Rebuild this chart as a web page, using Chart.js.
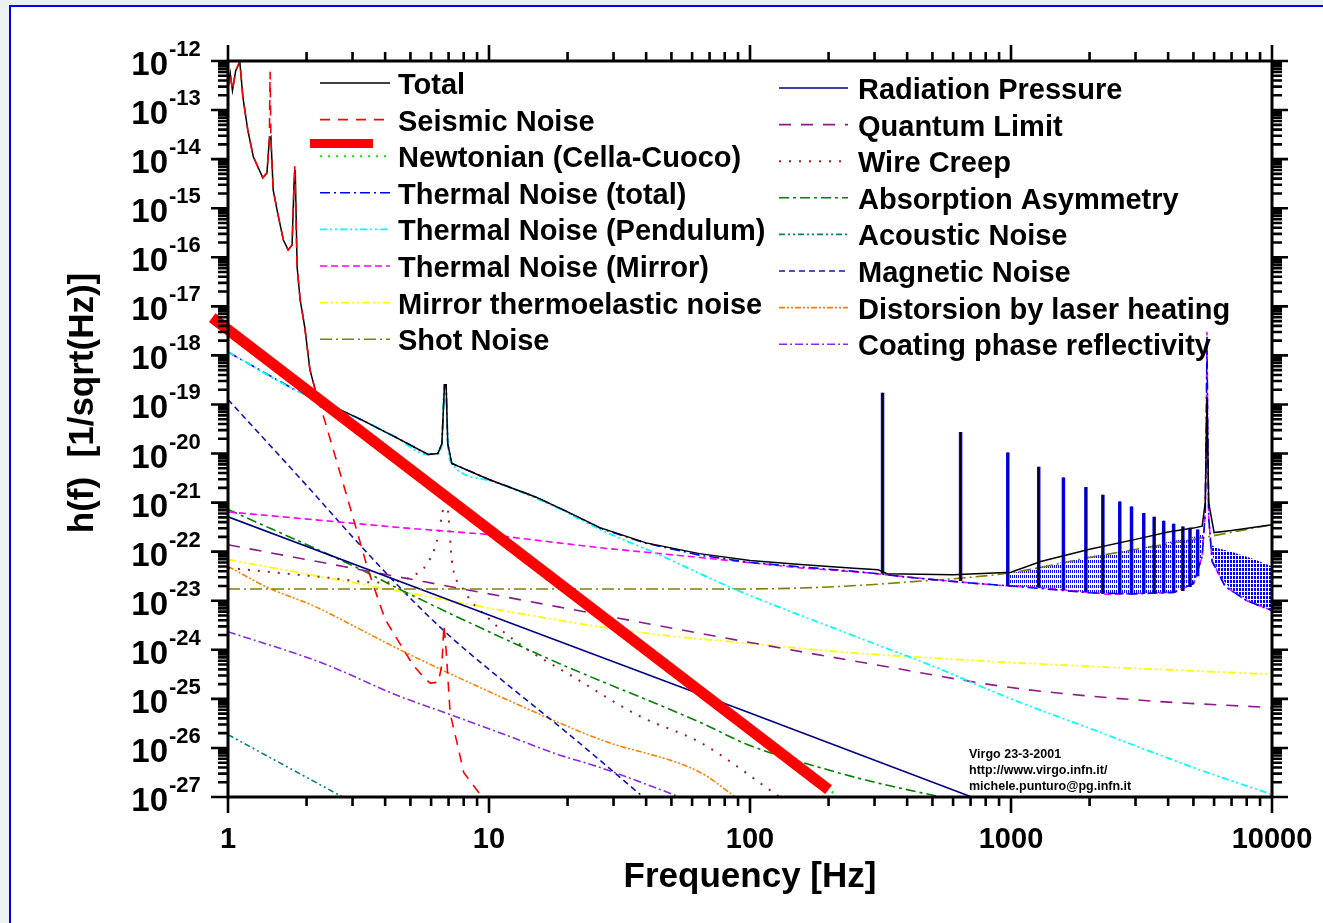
<!DOCTYPE html>
<html>
<head>
<meta charset="utf-8">
<script src="https://cdn.jsdelivr.net/npm/chart.js@4.4.1/dist/chart.umd.min.js"></script>
<style>
  html, body { margin: 0; padding: 0; }
  body { width: 1323px; height: 923px; background: #eef1f4; position: relative; overflow: hidden; }
  #panel { position: absolute; left: 9px; top: 5px; right: -5px; bottom: -5px; background: #fff;
           border-left: 2px solid #0000ff; border-top: 2px solid #0000ff; }
  #wrap { position: absolute; left: 0; top: 0; width: 1323px; height: 923px; }
</style>
</head>
<body>
<div id="panel"></div>
<div id="wrap"><canvas id="chart" width="1323" height="923"></canvas></div>
<script>
// frequency [Hz] and h(f) [1/sqrt(Hz)]
const totalF = [1.00, 1.02, 1.04, 1.07, 1.11, 1.14, 1.19, 1.25, 1.36, 1.41, 1.44, 1.46, 1.49, 1.55, 1.63, 1.70, 1.76, 1.79, 1.81, 1.84, 1.89, 1.97, 2.06, 2.17, 2.27, 3.24, 4.36, 5.84, 6.37, 6.6, 6.75, 6.85, 6.95, 7.2, 10, 15, 20, 26.6, 40, 64, 100, 156, 250, 310, 335, 600, 1000, 1300, 2000, 3000, 4000, 5000, 5400, 5550, 5635, 5720, 6000, 7000, 10000];
const totalH = [2.82e-13, 5.62e-13, 2.51e-13, 6.31e-13, 9.55e-13, 1.86e-13, 3.98e-14, 1.12e-14, 4.17e-15, 5.25e-15, 2.51e-14, 2.82e-14, 2.34e-15, 7.94e-16, 2.24e-16, 1.41e-16, 1.78e-16, 3.16e-15, 6.03e-15, 6.31e-17, 1.35e-17, 3.63e-18, 5.13e-19, 1.78e-19, 1.2e-19, 4.9e-20, 2.19e-20, 9.55e-21, 1.0e-20, 1.58e-20, 2.51e-19, 2.51e-19, 1.58e-20, 6.31e-21, 2.95e-21, 1.32e-21, 6.46e-22, 3.09e-22, 1.51e-22, 9.12e-23, 6.61e-23, 5.5e-23, 4.57e-23, 4.27e-23, 3.55e-23, 3.39e-23, 3.8e-23, 6.31e-23, 1.12e-22, 1.78e-22, 2.51e-22, 3.02e-22, 3.31e-22, 1.0e-21, 1.38e-19, 1.0e-21, 2.45e-22, 2.69e-22, 3.55e-22];

const seismicF = [1.00, 1.02, 1.04, 1.07, 1.11, 1.14, 1.19, 1.25, 1.36, 1.41, 1.44, 1.45, 1.46, 1.49, 1.55, 1.63, 1.70, 1.76, 1.79, 1.80, 1.84, 1.89, 1.97, 2.06, 2.17, 2.36, 2.88, 3.44, 4.0, 5.1, 5.6, 5.95, 6.4, 6.6, 6.72, 6.85, 7.1, 7.6, 8.0, 9.4];
const seismicH = [2.82e-13, 5.62e-13, 2.51e-13, 6.31e-13, 1.0e-12, 1.86e-13, 3.98e-14, 1.12e-14, 4.17e-15, 5.25e-15, 2.51e-14, 6.03e-13, 2.51e-14, 2.34e-15, 7.94e-16, 2.24e-16, 1.41e-16, 1.78e-16, 3.16e-15, 7.59e-15, 6.31e-17, 1.35e-17, 3.63e-18, 5.13e-19, 1.78e-19, 4.27e-20, 1.15e-21, 4.27e-23, 4.17e-24, 5.01e-25, 2.82e-25, 2.09e-25, 2.19e-25, 5.01e-25, 3.16e-24, 1.0e-24, 5.01e-26, 1.07e-26, 3.16e-27, 1.0e-27];

const newtonF = [1, 10, 100, 215];
const newtonH = [3.31e-18, 2.82e-22, 2.40e-26, 1.07e-27];
// thick red highlight drawn over the Newtonian curve
const highlightF = [0.87, 200];
const highlightH = [5.89e-18, 1.41e-27];

const thermalF = [1, 1.8, 2.27, 3.24, 4.36, 5.84, 6.37, 6.6, 6.75, 6.85, 6.95, 7.2, 10, 15, 20, 26.6, 40, 64, 100, 156, 250, 310, 400, 700, 1000, 2000, 3000, 4200, 5000, 5400, 5550, 5600, 5635, 5670, 5720, 5900, 6620, 8000, 10000];
const thermalH = [1.17e-18, 2.0e-19, 1.15e-19, 4.9e-20, 2.19e-20, 9.55e-21, 1.0e-20, 1.58e-20, 2.51e-19, 2.51e-19, 1.58e-20, 6.31e-21, 2.95e-21, 1.32e-21, 6.46e-22, 3.02e-22, 1.48e-22, 8.51e-23, 6.03e-23, 4.9e-23, 3.98e-23, 3.55e-23, 3.02e-23, 2.29e-23, 2.0e-23, 1.45e-23, 1.38e-23, 1.48e-23, 2.24e-23, 7.94e-23, 6.31e-22, 3.16e-20, 2.51e-18, 3.16e-20, 5.01e-22, 6.31e-23, 1.95e-23, 1.0e-23, 6.31e-24];

const pendulumF = [1, 1.8, 2.27, 3.24, 4.36, 5.84, 6.37, 6.6, 6.75, 6.85, 6.95, 7.2, 10, 17.2, 26.7, 44.2, 86, 243, 500, 1000, 2000, 5000, 10000];
const pendulumH = [1.17e-18, 2.0e-19, 1.15e-19, 4.9e-20, 2.19e-20, 9.55e-21, 1.0e-20, 1.58e-20, 2.51e-19, 2.51e-19, 1.58e-20, 6.31e-21, 2.82e-21, 9.12e-22, 2.82e-22, 8.91e-23, 1.78e-23, 2.04e-24, 4.68e-25, 1.0e-25, 2.51e-26, 3.98e-27, 1.12e-27];

const mirrorF = [1, 4.57, 10, 17.2, 26.7, 64.5, 156, 281, 505, 910, 1290, 2345, 4230, 5000, 5400, 5550, 5600, 5635, 5670, 5720, 5900, 6620, 8000, 10000];
const mirrorH = [6.46e-22, 3.09e-22, 2.24e-22, 1.58e-22, 1.2e-22, 7.59e-23, 4.68e-23, 3.72e-23, 2.69e-23, 2.04e-23, 1.86e-23, 1.35e-23, 1.48e-23, 2.24e-23, 7.94e-23, 6.31e-22, 3.16e-20, 3.02e-18, 3.16e-20, 5.01e-22, 6.31e-23, 1.95e-23, 1.0e-23, 6.31e-24];

// violin modes of the suspension wires
const violinF = [322, 641, 972, 1277, 1588, 1936, 2249, 2611, 2896, 3226, 3536, 3846, 4199, 4555, 4850, 5190];
const violinPeakH = [1.74e-19, 2.75e-20, 1.05e-20, 5.37e-21, 3.24e-21, 2.09e-21, 1.45e-21, 1.05e-21, 8.32e-22, 6.17e-22, 5.13e-22, 4.27e-22, 3.72e-22, 3.24e-22, 3.09e-22, 2.82e-22];
const violinBaseH = [3.55e-23, 2.51e-23, 2.0e-23, 1.86e-23, 1.66e-23, 1.51e-23, 1.38e-23, 1.35e-23, 1.35e-23, 1.38e-23, 1.41e-23, 1.45e-23, 1.48e-23, 1.58e-23, 1.9e-23, 3.16e-23];
// band covered by the unresolved violin harmonics
const bandAF = [990, 1300, 2000, 3000, 4000, 5000, 5450];
const bandATopH = [3.55e-23, 5.01e-23, 7.94e-23, 1.12e-22, 1.58e-22, 2.0e-22, 2.4e-22];
const bandALowH = [2.0e-23, 1.86e-23, 1.45e-23, 1.38e-23, 1.45e-23, 2.24e-23, 1.0e-22];
const bandBF = [5800, 6200, 7000, 8500, 10000];
const bandBTopH = [1.4e-22, 1.17e-22, 1.0e-22, 7.08e-23, 5.01e-23];
const bandBLowH = [1.3e-22, 3.55e-23, 1.66e-23, 8.91e-24, 6.31e-24];

const elasticF = [1, 4.56, 10, 35.8, 109, 243, 412, 1000, 10000];
const elasticH = [6.92e-23, 1.55e-23, 7.08e-24, 2.34e-24, 1.29e-24, 8.71e-25, 7.24e-25, 5.5e-25, 3.16e-25];

const shotF = [1, 100, 200, 400, 1000, 2000, 5000, 10000];
const shotH = [1.74e-23, 1.74e-23, 1.91e-23, 2.40e-23, 3.72e-23, 7.59e-23, 1.78e-22, 3.55e-22];

const radiationF = [1, 10, 100, 707];
const radiationH = [5.13e-22, 5.13e-24, 5.13e-26, 1.0e-27];

const quantumF = [1, 10, 100, 300, 1000, 3000, 10000];
const quantumH = [1.38e-22, 1.38e-23, 1.41e-24, 5.01e-25, 1.70e-25, 9.55e-26, 6.61e-26];

const creepF = [1, 1.55, 2.42, 3.76, 5.03, 5.84, 6.3, 6.59, 6.84, 7.0, 7.2, 7.9, 10.1, 13.5, 21, 38, 64.5, 130];
const creepH = [4.68e-23, 3.72e-23, 2.95e-23, 2.34e-23, 3.09e-23, 6.03e-23, 1.58e-22, 5.13e-22, 1.32e-21, 5.01e-22, 6.92e-23, 1.86e-23, 4.07e-24, 1.17e-24, 2.82e-25, 4.37e-26, 1.29e-26, 1.0e-27];

const absorptionF = [1, 3.24, 4.56, 17.2, 64.5, 100, 200, 300, 538];
const absorptionH = [7.24e-22, 4.27e-23, 1.70e-23, 6.31e-25, 3.31e-26, 1.12e-26, 3.55e-27, 2.0e-27, 1.0e-27];

const acousticF = [1, 2.75];
const acousticH = [1.86e-26, 1.0e-27];

const magneticF = [1, 2, 3, 5, 7, 10, 20, 38];
const magneticH = [1.26e-19, 2.24e-21, 2.0e-22, 1.12e-23, 2.0e-24, 3.98e-25, 2.0e-26, 1.12e-27];

const distortionF = [1, 1.42, 2.16, 3.07, 4.56, 11, 26.7, 64.5, 88];
const distortionH = [5.01e-23, 1.86e-23, 7.59e-24, 2.95e-24, 1.0e-24, 1.12e-25, 1.48e-26, 3.16e-27, 1.0e-27];

const coatingF = [1, 2.27, 4.56, 7.1, 11, 18.3, 26.7, 54];
const coatingH = [2.34e-24, 5.5e-25, 1.12e-25, 4.79e-26, 2.04e-26, 7.41e-27, 3.98e-27, 1.0e-27];

const xTickValues = [1, 10, 100, 1000, 10000];
const xTickLabels = ['1', '10', '100', '1000', '10000'];
const yTickExps = [-12, -13, -14, -15, -16, -17, -18, -19, -20, -21, -22, -23, -24, -25, -26, -27];

const legendLeft = [
  ['total', 'Total'], ['seismic', 'Seismic Noise'], ['newtonian', 'Newtonian (Cella-Cuoco)'],
  ['thermal', 'Thermal Noise (total)'], ['pendulum', 'Thermal Noise (Pendulum)'], ['mirror', 'Thermal Noise (Mirror)'],
  ['elastic', 'Mirror thermoelastic noise'], ['shot', 'Shot Noise']
];
const legendRight = [
  ['radiation', 'Radiation Pressure'], ['quantum', 'Quantum Limit'], ['creep', 'Wire Creep'],
  ['absorption', 'Absorption Asymmetry'], ['acoustic', 'Acoustic Noise'], ['magnetic', 'Magnetic Noise'],
  ['distortion', 'Distorsion by laser heating'], ['coating', 'Coating phase reflectivity']
];

const S = {
  total:      { color: '#000000', dash: [], width: 1.5 },
  seismic:    { color: '#ff0000', dash: [10, 8], width: 1.6 },
  newtonian:  { color: '#00e600', dash: [2, 6], width: 2 },
  thermal:    { color: '#0000ff', dash: [10, 4, 2, 4], width: 1.6 },
  pendulum:   { color: '#00ffff', dash: [7, 3, 2, 3, 2, 3], width: 1.8 },
  mirror:     { color: '#ff00ff', dash: [7, 4], width: 1.6 },
  elastic:    { color: '#ffff00', dash: [8, 3, 2, 3, 2, 3], width: 1.8 },
  shot:       { color: '#808000', dash: [12, 4, 2, 4], width: 1.6 },
  radiation:  { color: '#000080', dash: [], width: 1.6 },
  quantum:    { color: '#8b1a8b', dash: [12, 10], width: 1.6 },
  creep:      { color: '#992222', dash: [2, 8], width: 2 },
  absorption: { color: '#008000', dash: [10, 4, 3, 4], width: 1.6 },
  acoustic:   { color: '#008080', dash: [6, 3, 2, 3, 2, 3], width: 1.6 },
  magnetic:   { color: '#1414b4', dash: [6, 4], width: 1.6 },
  distortion: { color: '#ff8000', dash: [6, 2, 2, 2, 2, 2], width: 1.6 },
  coating:    { color: '#8a2be2', dash: [8, 3, 2, 3], width: 1.6 }
};

const FONT = '"Liberation Sans", Arial, sans-serif';

const pairs = (fs, hs) => fs.map((f, i) => ({ x: f, y: hs[i] }));
const spikes = (fs, lo, hi) => fs.flatMap((f, i) => [{ x: f, y: lo[i] }, { x: f, y: hi[i] }, { x: f, y: null }]);

const line = (key, data, extra) => ({
  data, showLine: true, pointRadius: 0, fill: false,
  borderColor: S[key].color, borderWidth: S[key].width, borderDash: S[key].dash,
  ...extra
});
const smooth = { cubicInterpolationMode: 'monotone' };

const hatch = (w, h, on, lw) => {
  const c = document.createElement('canvas');
  c.width = w; c.height = h;
  const g = c.getContext('2d');
  g.fillStyle = '#0000ff';
  g.fillRect(0, 0, lw, on);
  return g.createPattern(c, 'repeat');
};

const band = (fs, hs, bg, fillTo) => ({
  data: pairs(fs, hs), showLine: true, pointRadius: 0, borderWidth: 0,
  borderColor: 'rgba(0,0,0,0)', backgroundColor: bg, fill: fillTo
});

const datasets = [
  { data: pairs(highlightF, highlightH), showLine: true, pointRadius: 0, borderColor: '#ff0000',
    borderWidth: 11, borderCapStyle: 'butt', clip: false },
  line('seismic', pairs(seismicF, seismicH)),
  line('total', pairs(totalF, totalH)),
  line('total', spikes(violinF, violinBaseH, violinPeakH), { borderWidth: 1.2 }),
  line('newtonian', pairs(newtonF, newtonH)),
  line('pendulum', pairs(pendulumF, pendulumH), smooth),
  line('thermal', pairs(thermalF, thermalH)),
  line('thermal', spikes(violinF, violinBaseH, violinPeakH), { borderWidth: 3.5, borderDash: [] }),
  line('mirror', pairs(mirrorF, mirrorH)),
  line('shot', pairs(shotF, shotH), smooth),
  line('radiation', pairs(radiationF, radiationH)),
  line('quantum', pairs(quantumF, quantumH), smooth),
  line('creep', pairs(creepF, creepH), smooth),
  line('absorption', pairs(absorptionF, absorptionH), smooth),
  line('elastic', pairs(elasticF, elasticH), smooth),
  line('acoustic', pairs(acousticF, acousticH)),
  line('magnetic', pairs(magneticF, magneticH), smooth),
  line('distortion', pairs(distortionF, distortionH), smooth),
  line('coating', pairs(coatingF, coatingH), smooth),
  band(bandAF, bandATopH, hatch(2, 5, 3, 1), '+1'),
  band(bandAF, bandALowH, 'rgba(0,0,0,0)', false),
  band(bandBF, bandBTopH, hatch(3, 4, 3, 2), '+1'),
  band(bandBF, bandBLowH, 'rgba(0,0,0,0)', false)
];

const framePlugin = {
  id: 'frame',
  afterDatasetsDraw(chart) {
    const { ctx, chartArea: a, scales: { x, y } } = chart;
    ctx.save();
    ctx.setLineDash([]);
    ctx.strokeStyle = '#000';
    ctx.lineWidth = 3;
    ctx.strokeRect(a.left, a.top, a.right - a.left, a.bottom - a.top);

    ctx.lineWidth = 2.6;
    ctx.beginPath();
    const seg = (x1, y1, x2, y2) => { ctx.moveTo(x1, y1); ctx.lineTo(x2, y2); };
    yTickExps.forEach(e => {
      const p = y.getPixelForValue(Math.pow(10, e));
      seg(a.left, p, a.left - 17, p);
      seg(a.right, p, a.right + 16, p);
    });
    yTickExps.slice(1).forEach(e => {
      for (let m = 2; m <= 9; m++) {
        const p = y.getPixelForValue(m * Math.pow(10, e));
        seg(a.left, p, a.left - 10, p);
        seg(a.right, p, a.right + 10, p);
      }
    });
    xTickValues.forEach((v, i) => {
      const p = x.getPixelForValue(v);
      seg(p, a.top, p, a.top - 16);
      seg(p, a.bottom, p, a.bottom + 16);
      if (i < xTickValues.length - 1) {
        for (let m = 2; m <= 9; m++) {
          const q = x.getPixelForValue(m * v);
          seg(q, a.top, q, a.top - 9);
          seg(q, a.bottom, q, a.bottom + 9);
        }
      }
    });
    ctx.stroke();

    // tick labels
    ctx.fillStyle = '#000';
    ctx.textBaseline = 'alphabetic';
    yTickExps.forEach(e => {
      const p = y.getPixelForValue(Math.pow(10, e));
      ctx.font = 'bold 33px ' + FONT;
      ctx.textAlign = 'right';
      ctx.fillText('10', 168, p + 14);
      ctx.font = 'bold 22px ' + FONT;
      ctx.textAlign = 'left';
      ctx.fillText(String(e), 169, p - 5);
    });
    ctx.font = 'bold 29px ' + FONT;
    ctx.textAlign = 'center';
    xTickValues.forEach((v, i) => ctx.fillText(xTickLabels[i], x.getPixelForValue(v), 848));

    // axis titles
    ctx.font = 'bold 35px ' + FONT;
    ctx.fillText('Frequency [Hz]', 750, 887);
    ctx.save();
    ctx.translate(93, 403);
    ctx.rotate(-Math.PI / 2);
    ctx.fillText('h(f)  [1/sqrt(Hz)]', 0, 0);
    ctx.restore();

    // legend
    const drawEntry = (key, label, x0, x1, tx, yy) => {
      const st = S[key];
      ctx.strokeStyle = st.color;
      ctx.lineWidth = st.width;
      ctx.setLineDash(st.dash);
      ctx.beginPath();
      ctx.moveTo(x0, yy);
      ctx.lineTo(x1, yy);
      ctx.stroke();
      ctx.setLineDash([]);
      ctx.fillStyle = '#000';
      ctx.font = 'bold 29px ' + FONT;
      ctx.textAlign = 'left';
      ctx.fillText(label, tx, yy + 11);
    };
    legendLeft.forEach(([k, t], i) => drawEntry(k, t, 320, 390, 398, 83 + i * 36.6));
    legendRight.forEach(([k, t], i) => drawEntry(k, t, 779, 848, 858, 88 + i * 36.6));
    ctx.fillStyle = '#ff0000';
    ctx.fillRect(310, 139, 63, 9);

    // credit
    ctx.fillStyle = '#000';
    ctx.font = 'bold 12.5px ' + FONT;
    ctx.fillText('Virgo 23-3-2001', 969, 758);
    ctx.fillText('http://www.virgo.infn.it/', 969, 774);
    ctx.fillText('michele.punturo@pg.infn.it', 969, 790);
    ctx.restore();
  }
};

new Chart(document.getElementById('chart'), {
  type: 'scatter',
  data: { datasets },
  options: {
    responsive: false,
    animation: false,
    devicePixelRatio: 1,
    layout: { padding: { left: 228, top: 61, right: 51, bottom: 126 } },
    plugins: { legend: { display: false }, tooltip: { enabled: false } },
    scales: {
      x: { type: 'logarithmic', min: 1, max: 10000, display: false },
      y: { type: 'logarithmic', min: 1e-27, max: 1e-12, display: false }
    }
  },
  plugins: [framePlugin]
});
</script>
</body>
</html>
